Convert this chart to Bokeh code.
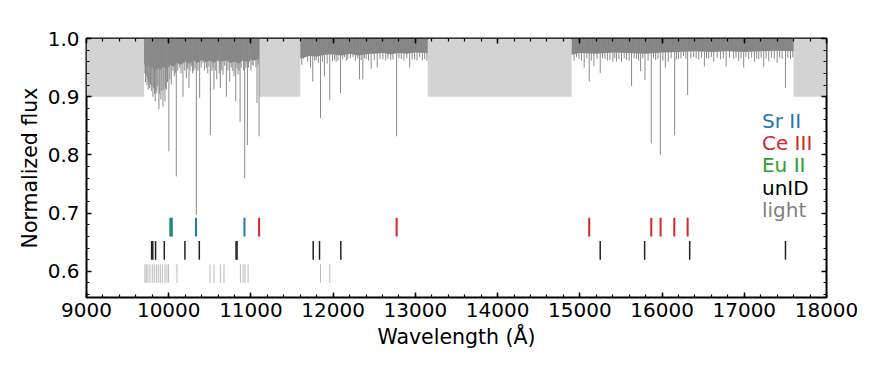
from bokeh.plotting import figure
from bokeh.models import Range1d, LinearAxis, SingleIntervalTicker, Label, PrintfTickFormatter, CustomJSTickFormatter
from bokeh.embed import file_html
from bokeh.resources import INLINE

# ---- data ----
mask_lo = [9000, 11100, 13150, 17600]
mask_hi = [9700, 11600, 14900, 18000]

band1_wl = [9700, 9720, 9750, 9780, 9800, 9830, 9860, 9900, 9940, 9980, 10020, 10060, 10100,
            10150, 10200, 10250, 10300, 10350, 10400, 10450, 10500, 10550, 10600, 10650,
            10700, 10750, 10800, 10850, 10900, 10950, 11000, 11050, 11100]
band1_flux = [0.958, 0.95, 0.955, 0.945, 0.952, 0.944, 0.95, 0.946, 0.952, 0.948, 0.955,
              0.952, 0.958, 0.955, 0.96, 0.957, 0.962, 0.958, 0.963, 0.959, 0.962, 0.958,
              0.963, 0.96, 0.962, 0.958, 0.96, 0.957, 0.962, 0.96, 0.964, 0.962, 0.965]
band2_wl = [11600, 11700, 11800, 11900, 12000, 12100, 12200, 12300, 12400, 12500, 12600,
            12700, 12800, 12900, 13000, 13150]
band2_flux = [0.965, 0.97, 0.969, 0.972, 0.973, 0.971, 0.974, 0.971, 0.973, 0.974, 0.975,
              0.973, 0.975, 0.974, 0.976, 0.975]
band3_wl = [14900, 15000, 15200, 15400, 15600, 15800, 16000, 16200, 16400, 16600, 16800,
            17000, 17200, 17400, 17600]
band3_flux = [0.972, 0.975, 0.974, 0.976, 0.975, 0.974, 0.976, 0.977, 0.978, 0.977, 0.978,
              0.977, 0.978, 0.979, 0.978]

line_wl = [9710, 9718, 9727, 9736, 9743, 9751, 9760, 9768, 9779, 9788, 9797, 9808, 9817, 9827,
           9836, 9846, 9856, 9866, 9881, 9890, 9905, 9915, 9930, 9940, 9954, 9962, 9971, 9985,
           10002, 10015, 10031, 10051, 10068, 10080, 10092, 10110, 10133, 10150, 10173, 10195,
           10214, 10230, 10246, 10260, 10275, 10290, 10303, 10320, 10336, 10355, 10376, 10395,
           10417, 10437, 10458, 10475, 10490,
           10506, 10526, 10538, 10550, 10566, 10584, 10604, 10615, 10628, 10645, 10661, 10681,
           10701, 10720, 10742, 10760, 10779, 10795, 10815, 10830, 10843, 10855, 10868, 10882,
           10896, 10910, 10924, 10940, 10957, 10970, 10982, 11000, 11015, 11026, 11046, 11060,
           11074, 11087, 11099,
           11618, 11640, 11659, 11690, 11724, 11752, 11775, 11793, 11820, 11846, 11870, 11894,
           11927, 11959, 11992, 12015, 12036, 12060, 12089, 12115, 12138, 12160, 12179, 12210,
           12240, 12270, 12300, 12320, 12340, 12361, 12380, 12402, 12430, 12462, 12500, 12536,
           12570, 12605, 12640, 12666, 12700, 12727, 12772, 12800, 12828, 12860, 12895, 12930,
           12960, 12991, 13020, 13052, 13085, 13113, 13140,
           14930, 14959, 14990, 15020, 15053, 15085, 15114, 15140, 15171, 15210, 15248, 15275,
           15305, 15335, 15366, 15402, 15425, 15447, 15475, 15507, 15540, 15568, 15600, 15629,
           15660, 15690, 15715, 15739, 15765, 15792, 15830, 15869, 15895, 15922, 15950, 15979,
           16010, 16040, 16076, 16110, 16153, 16175, 16199, 16230, 16262, 16290, 16311, 16350,
           16385, 16415, 16446, 16480, 16515, 16540, 16567, 16600, 16629, 16670, 16710, 16745,
           16780, 16820, 16871, 16900, 16932, 16960, 16993, 17020, 17054, 17090, 17124, 17150,
           17176, 17205, 17237, 17265, 17298, 17330, 17365, 17400, 17430, 17460, 17501, 17530,
           17562, 17590]
line_flux = [0.94, 0.925, 0.935, 0.92, 0.93, 0.912, 0.925, 0.915, 0.921, 0.91, 0.918, 0.90,
             0.915, 0.905, 0.892, 0.91, 0.906, 0.918, 0.878, 0.905, 0.895, 0.91, 0.883, 0.912,
             0.892, 0.915, 0.912, 0.925, 0.806, 0.93, 0.921, 0.944, 0.935, 0.94, 0.763, 0.945,
             0.95, 0.94, 0.90, 0.945, 0.932, 0.948, 0.915, 0.945, 0.952, 0.94, 0.944, 0.948,
             0.697, 0.945, 0.898, 0.95, 0.958, 0.945, 0.95, 0.94, 0.952,
             0.834, 0.944, 0.95, 0.912, 0.945, 0.93, 0.96, 0.94, 0.915, 0.945, 0.938, 0.953,
             0.90, 0.945, 0.926, 0.95, 0.944, 0.935, 0.892, 0.948, 0.938, 0.945, 0.857, 0.95,
             0.965, 0.945, 0.76, 0.95, 0.817, 0.95, 0.96, 0.945, 0.955, 0.953, 0.968, 0.95,
             0.889, 0.955, 0.832,
             0.955, 0.965, 0.968, 0.96, 0.95, 0.926, 0.962, 0.963, 0.958, 0.863, 0.96, 0.935,
             0.957, 0.894, 0.961, 0.963, 0.96, 0.962, 0.906, 0.964, 0.968, 0.962, 0.964, 0.966,
             0.968, 0.962, 0.966, 0.93, 0.963, 0.93, 0.966, 0.964, 0.962, 0.948, 0.963, 0.95,
             0.965, 0.964, 0.962, 0.965, 0.963, 0.964, 0.832, 0.966, 0.965, 0.962, 0.966, 0.95,
             0.964, 0.964, 0.962, 0.968, 0.963, 0.965, 0.962,
             0.962, 0.968, 0.965, 0.962, 0.95, 0.966, 0.926, 0.962, 0.953, 0.965, 0.941, 0.966,
             0.965, 0.962, 0.963, 0.96, 0.966, 0.96, 0.965, 0.96, 0.966, 0.963, 0.962, 0.918,
             0.966, 0.965, 0.962, 0.944, 0.966, 0.929, 0.962, 0.82, 0.966, 0.963, 0.965, 0.80,
             0.962, 0.95, 0.96, 0.966, 0.834, 0.964, 0.965, 0.966, 0.97, 0.965, 0.903, 0.966,
             0.968, 0.966, 0.964, 0.967, 0.952, 0.966, 0.965, 0.968, 0.96, 0.967, 0.964, 0.966,
             0.952, 0.967, 0.965, 0.967, 0.961, 0.966, 0.95, 0.968, 0.965, 0.967, 0.96, 0.966,
             0.964, 0.967, 0.952, 0.966, 0.961, 0.967, 0.965, 0.958, 0.967, 0.965, 0.915, 0.967,
             0.964, 0.968]

sr_wl = [10037, 10332, 10921]
ce_wl = [11099, 12772, 15114, 15869, 15982, 16149, 16311]
eu_wl = [10019]
unid_wl = [9792, 9806, 9840, 9946, 10197, 10372, 10819, 10831, 11757, 11834, 12093,
           15248, 15788, 16336, 17501]
light_wl = [9710, 9727, 9747, 9771, 9800, 9824, 9849, 9873, 9897, 9922, 9954, 9978, 9999,
            10100, 10502, 10550, 10628, 10672, 10872, 10905, 10928, 10965, 11846, 11959]

legend_names = ["Sr II", "Ce III", "Eu II", "unID", "light"]
legend_colors = ["#1f77b4", "#d62728", "#2ca02c", "black", "gray"]

FONT = "DejaVu Sans"

p = figure(width=858, height=364, x_range=Range1d(9000, 18000), y_range=Range1d(0.555, 1.0),
           output_backend="svg", toolbar_location=None,
           min_border_left=86, min_border_right=32, min_border_top=38, min_border_bottom=67)
p.grid.visible = False
p.outline_line_color = "black"
p.outline_line_width = 2
p.background_fill_color = "white"
p.border_fill_color = "white"

# masked regions
p.quad(left=mask_lo, right=mask_hi, bottom=[0.9] * len(mask_lo), top=[1.0] * len(mask_lo),
       fill_color="#d3d3d3", line_color=None)

# spectrum: dense band and absorption lines
for bw, bf in [(band1_wl, band1_flux), (band2_wl, band2_flux), (band3_wl, band3_flux)]:
    p.varea(x=bw, y1=bf, y2=[1.0] * len(bw), fill_color="#848484")
p.segment(x0=line_wl, x1=line_wl, y0=[1.0] * len(line_wl), y1=line_flux,
          line_color="#8a8a8a", line_width=1)

# line identification markers
def ticks(wl, c, color, w):
    p.segment(x0=wl, x1=wl, y0=[c - 0.016] * len(wl), y1=[c + 0.016] * len(wl),
              line_color=color, line_width=w)

ticks(light_wl, 0.596, "#bbbbbb", 1)
ticks(unid_wl, 0.636, "#222222", 1.5)
ticks(eu_wl, 0.676, legend_colors[2], 2)
ticks(sr_wl, 0.676, legend_colors[0], 2)
ticks(ce_wl, 0.676, legend_colors[1], 2)

# legend text
for i, (name, col) in enumerate(zip(legend_names, legend_colors)):
    p.add_layout(Label(x=17215, y=0.859 - i * 0.0385, text=name, text_color=col,
                       text_baseline="middle", text_font=FONT, text_font_size="20px"))

xt = SingleIntervalTicker(interval=1000, num_minor_ticks=5)
yt = SingleIntervalTicker(interval=0.1, num_minor_ticks=5)

p.xaxis.ticker = xt
p.yaxis.ticker = yt
p.yaxis.formatter = PrintfTickFormatter(format="%.1f")
p.xaxis.axis_label = "Wavelength (Å)"
p.yaxis.axis_label = "Normalized flux"

blank = CustomJSTickFormatter(code="return ''")
p.add_layout(LinearAxis(ticker=xt, formatter=blank), "above")
p.add_layout(LinearAxis(ticker=yt, formatter=blank), "right")

for ax in p.axis:
    ax.axis_line_color = None
    ax.major_tick_in = 5
    ax.major_tick_out = 0
    ax.minor_tick_in = 3
    ax.minor_tick_out = 0
    ax.major_tick_line_width = 1.5
    ax.minor_tick_line_width = 1.2
    ax.major_tick_line_color = "black"
    ax.minor_tick_line_color = "black"
    ax.major_label_text_font = FONT
    ax.major_label_text_font_size = "20px"
    ax.major_label_text_color = "black"
    ax.axis_label_text_font = FONT
    ax.axis_label_text_font_size = "20.5px"
    ax.axis_label_text_font_style = "normal"
    ax.axis_label_text_color = "black"

p.above[0].major_label_standoff = 0
p.right[0].major_label_standoff = 0
p.yaxis[0].major_label_standoff = 7
p.xaxis[0].major_label_standoff = 15
p.yaxis[0].axis_label_standoff = 3
p.xaxis[0].axis_label_standoff = 13

open("out.html", "w").write(file_html(p, INLINE))
